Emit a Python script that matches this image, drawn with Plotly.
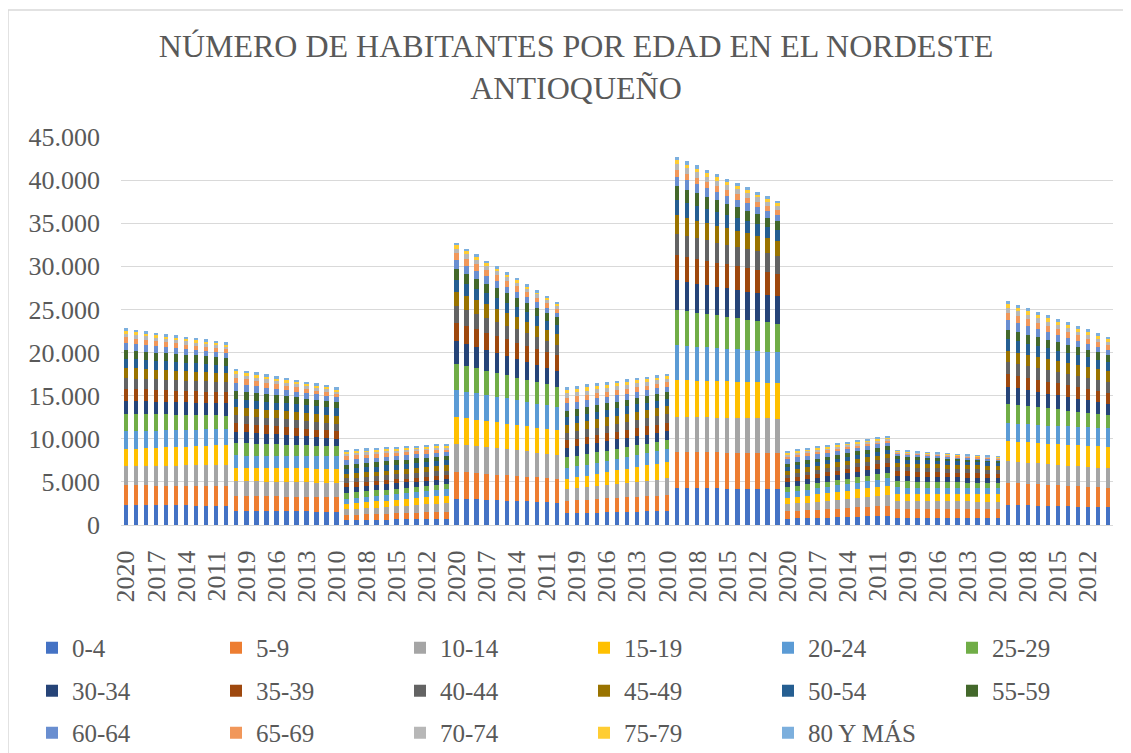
import plotly.graph_objects as go

# Years shown for each municipality block (as in the source sheet, 2020 down to 2010)
years = [2020, 2019, 2018, 2017, 2016, 2015, 2014, 2013, 2012, 2011, 2010]

age_groups = ["0-4", "5-9", "10-14", "15-19", "20-24", "25-29", "30-34", "35-39",
              "40-44", "45-49", "50-54", "55-59", "60-64", "65-69", "70-74", "75-79",
              "80 Y MÁS"]

colors = ["#4472C4", "#ED7D31", "#A5A5A5", "#FFC000", "#5B9BD5", "#70AD47",
          "#264478", "#9E480E", "#636363", "#997300", "#255E91", "#43682B",
          "#698ED0", "#F1975A", "#B7B7B7", "#FFCD33", "#7CAFDD"]

# One table per municipality block: rows = age groups, columns = years (2020..2010)
mun_1 = [
    [2300, 2295, 2290, 2285, 2280, 2275, 2270, 2260, 2255, 2250, 2240],
    [2310, 2300, 2300, 2295, 2300, 2290, 2295, 2300, 2300, 2305, 2300],
    [2200, 2225, 2255, 2280, 2310, 2335, 2360, 2390, 2415, 2445, 2470],
    [1970, 2005, 2035, 2070, 2100, 2135, 2170, 2200, 2235, 2265, 2300],
    [2080, 2055, 2035, 2010, 1990, 1965, 1940, 1920, 1895, 1875, 1850],
    [2050, 2000, 1950, 1895, 1845, 1795, 1745, 1695, 1640, 1590, 1540],
    [1470, 1465, 1460, 1455, 1450, 1450, 1445, 1440, 1440, 1435, 1430],
    [1430, 1415, 1400, 1380, 1365, 1350, 1335, 1320, 1300, 1285, 1270],
    [1240, 1230, 1225, 1215, 1210, 1200, 1190, 1185, 1175, 1170, 1160],
    [1200, 1185, 1170, 1150, 1135, 1120, 1105, 1090, 1070, 1055, 1040],
    [1040, 1025, 1010, 995, 980, 965, 950, 935, 920, 905, 890],
    [970, 965, 960, 955, 950, 950, 945, 940, 940, 935, 930],
    [810, 785, 755, 730, 700, 675, 650, 620, 595, 565, 540],
    [700, 670, 645, 615, 590, 560, 530, 505, 475, 450, 420],
    [420, 410, 400, 385, 375, 365, 355, 345, 330, 320, 310],
    [310, 300, 295, 285, 280, 270, 260, 255, 245, 240, 230],
    [350, 340, 335, 325, 320, 310, 300, 295, 285, 280, 270],
]
mun_2 = [
    [1660, 1650, 1635, 1625, 1610, 1600, 1590, 1575, 1565, 1550, 1540],
    [1740, 1730, 1725, 1715, 1710, 1700, 1690, 1685, 1675, 1670, 1660],
    [1700, 1695, 1690, 1690, 1685, 1680, 1675, 1670, 1670, 1665, 1660],
    [1540, 1550, 1565, 1575, 1590, 1600, 1610, 1625, 1635, 1650, 1660],
    [1430, 1435, 1445, 1450, 1460, 1465, 1470, 1480, 1485, 1495, 1500],
    [1430, 1400, 1370, 1335, 1305, 1275, 1245, 1215, 1180, 1150, 1120],
    [1310, 1270, 1225, 1185, 1140, 1100, 1060, 1015, 975, 930, 890],
    [1040, 1020, 1000, 985, 965, 945, 925, 905, 890, 870, 850],
    [930, 920, 915, 905, 900, 890, 880, 875, 865, 860, 850],
    [890, 900, 905, 915, 920, 930, 940, 945, 955, 960, 970],
    [930, 925, 920, 920, 915, 910, 905, 900, 900, 895, 890],
    [970, 945, 915, 890, 860, 835, 810, 780, 755, 725, 700],
    [850, 820, 790, 755, 725, 695, 665, 635, 600, 570, 540],
    [660, 635, 605, 580, 550, 525, 500, 470, 445, 415, 390],
    [420, 410, 400, 385, 375, 365, 355, 345, 330, 320, 310],
    [310, 300, 295, 285, 280, 270, 260, 255, 245, 240, 230],
    [310, 300, 295, 285, 280, 270, 260, 255, 245, 240, 230],
]
mun_3 = [
    [580, 590, 605, 615, 630, 640, 650, 665, 675, 690, 700],
    [580, 605, 635, 660, 690, 715, 740, 770, 795, 825, 850],
    [660, 690, 720, 755, 785, 815, 845, 875, 910, 940, 970],
    [620, 645, 675, 700, 730, 755, 780, 810, 835, 865, 890],
    [620, 630, 640, 655, 665, 675, 685, 695, 710, 720, 730],
    [620, 620, 625, 620, 615, 620, 625, 620, 620, 615, 620],
    [700, 685, 670, 650, 635, 620, 605, 590, 570, 555, 540],
    [460, 465, 460, 460, 465, 460, 455, 460, 460, 465, 460],
    [580, 575, 570, 570, 565, 560, 555, 550, 550, 545, 540],
    [460, 480, 500, 520, 540, 560, 580, 600, 620, 640, 660],
    [580, 585, 580, 580, 585, 580, 575, 580, 580, 585, 580],
    [500, 500, 505, 500, 495, 500, 500, 505, 500, 500, 500],
    [580, 565, 550, 530, 515, 500, 485, 470, 450, 435, 420],
    [460, 450, 440, 425, 415, 405, 395, 385, 370, 360, 350],
    [310, 300, 295, 285, 280, 270, 260, 255, 245, 240, 230],
    [230, 225, 220, 220, 215, 210, 205, 200, 200, 195, 190],
    [190, 190, 190, 190, 190, 190, 190, 190, 190, 190, 190],
]
mun_4 = [
    [3050, 3005, 2960, 2910, 2865, 2820, 2775, 2730, 2680, 2635, 2590],
    [3130, 3095, 3060, 3025, 2990, 2955, 2920, 2885, 2850, 2815, 2780],
    [3240, 3195, 3150, 3100, 3055, 3010, 2965, 2920, 2870, 2825, 2780],
    [3090, 3065, 3045, 3020, 3000, 2975, 2950, 2930, 2905, 2885, 2860],
    [3130, 3085, 3045, 3000, 2960, 2915, 2870, 2830, 2785, 2745, 2700],
    [3050, 2975, 2905, 2830, 2760, 2685, 2610, 2540, 2465, 2395, 2320],
    [2630, 2550, 2475, 2395, 2320, 2240, 2160, 2085, 2005, 1930, 1850],
    [2120, 2085, 2050, 2020, 1985, 1950, 1915, 1880, 1850, 1815, 1780],
    [1930, 1860, 1790, 1725, 1655, 1585, 1515, 1445, 1380, 1310, 1240],
    [1700, 1650, 1600, 1550, 1500, 1450, 1400, 1350, 1300, 1250, 1200],
    [1390, 1355, 1320, 1285, 1250, 1215, 1180, 1145, 1110, 1075, 1040],
    [1200, 1175, 1145, 1120, 1090, 1065, 1040, 1010, 985, 955, 930],
    [1040, 990, 940, 890, 840, 790, 740, 690, 640, 590, 540],
    [810, 780, 750, 715, 685, 655, 625, 595, 560, 530, 500],
    [540, 515, 495, 470, 450, 425, 400, 380, 355, 335, 310],
    [390, 375, 360, 340, 325, 310, 295, 280, 260, 245, 230],
    [310, 300, 285, 275, 260, 250, 240, 225, 215, 200, 190],
]
mun_5 = [
    [1350, 1380, 1410, 1445, 1475, 1505, 1535, 1565, 1600, 1630, 1660],
    [1470, 1505, 1540, 1570, 1605, 1640, 1675, 1710, 1740, 1775, 1810],
    [1310, 1370, 1435, 1495, 1560, 1620, 1680, 1745, 1805, 1870, 1930],
    [1200, 1275, 1345, 1420, 1490, 1565, 1640, 1710, 1785, 1855, 1930],
    [1240, 1265, 1285, 1310, 1330, 1355, 1380, 1400, 1425, 1445, 1470],
    [1270, 1245, 1225, 1200, 1180, 1155, 1130, 1110, 1085, 1065, 1040],
    [1120, 1110, 1105, 1095, 1090, 1080, 1070, 1065, 1055, 1050, 1040],
    [850, 860, 875, 885, 900, 910, 920, 935, 945, 960, 970],
    [850, 860, 875, 885, 900, 910, 920, 935, 945, 960, 970],
    [930, 935, 940, 940, 945, 950, 955, 960, 960, 965, 970],
    [890, 885, 880, 880, 875, 870, 865, 860, 860, 855, 850],
    [770, 765, 760, 760, 755, 750, 745, 740, 740, 735, 730],
    [850, 830, 810, 795, 775, 755, 735, 715, 700, 680, 660],
    [660, 645, 630, 610, 595, 580, 565, 550, 530, 515, 500],
    [500, 490, 480, 465, 455, 445, 435, 425, 410, 400, 390],
    [390, 380, 375, 365, 360, 350, 340, 335, 325, 320, 310],
    [350, 340, 335, 325, 320, 310, 300, 295, 285, 280, 270],
]
mun_6 = [
    [4320, 4300, 4280, 4265, 4245, 4225, 4205, 4185, 4170, 4150, 4130],
    [4170, 4175, 4170, 4165, 4170, 4175, 4170, 4165, 4170, 4175, 4170],
    [4050, 4055, 4050, 4045, 4050, 4055, 4050, 4045, 4050, 4055, 4050],
    [4250, 4240, 4225, 4215, 4200, 4190, 4180, 4165, 4155, 4140, 4130],
    [4050, 4000, 3950, 3900, 3850, 3800, 3750, 3700, 3650, 3600, 3550],
    [4130, 4050, 3970, 3885, 3805, 3725, 3645, 3565, 3480, 3400, 3320],
    [3400, 3375, 3355, 3330, 3310, 3285, 3260, 3240, 3215, 3195, 3170],
    [2900, 2875, 2845, 2820, 2790, 2765, 2740, 2710, 2685, 2655, 2630],
    [2510, 2465, 2425, 2380, 2340, 2295, 2250, 2210, 2165, 2125, 2080],
    [2120, 2080, 2035, 1995, 1950, 1910, 1870, 1825, 1785, 1740, 1700],
    [1810, 1760, 1710, 1660, 1610, 1560, 1510, 1460, 1410, 1360, 1310],
    [1580, 1520, 1465, 1405, 1350, 1290, 1230, 1175, 1115, 1060, 1000],
    [1120, 1080, 1040, 1005, 965, 925, 885, 845, 810, 770, 730],
    [810, 785, 765, 740, 720, 695, 670, 650, 625, 605, 580],
    [660, 640, 620, 600, 580, 560, 540, 520, 500, 480, 460],
    [420, 410, 400, 385, 375, 365, 355, 345, 330, 320, 310],
    [420, 410, 400, 385, 375, 365, 355, 345, 330, 320, 310],
]
mun_7 = [
    [730, 765, 800, 835, 870, 905, 940, 975, 1010, 1045, 1080],
    [850, 880, 910, 945, 975, 1005, 1035, 1065, 1100, 1130, 1160],
    [810, 850, 890, 925, 965, 1005, 1045, 1085, 1120, 1160, 1200],
    [730, 770, 810, 845, 885, 925, 965, 1005, 1040, 1080, 1120],
    [660, 680, 700, 715, 735, 755, 775, 795, 810, 830, 850],
    [580, 590, 595, 605, 610, 620, 630, 635, 645, 650, 660],
    [580, 585, 590, 590, 595, 600, 605, 610, 610, 615, 620],
    [460, 470, 475, 485, 490, 500, 510, 515, 525, 530, 540],
    [390, 400, 410, 425, 435, 445, 455, 465, 480, 490, 500],
    [500, 500, 505, 500, 495, 500, 500, 505, 500, 500, 500],
    [420, 425, 430, 430, 435, 440, 445, 450, 450, 455, 460],
    [390, 395, 405, 410, 420, 425, 430, 440, 445, 455, 460],
    [540, 525, 510, 495, 480, 465, 450, 435, 420, 405, 390],
    [350, 340, 335, 325, 320, 310, 300, 295, 285, 280, 270],
    [230, 225, 220, 220, 215, 210, 205, 200, 200, 195, 190],
    [190, 185, 180, 180, 175, 170, 165, 160, 160, 155, 150],
    [150, 145, 145, 140, 135, 135, 130, 130, 125, 125, 120],
]
mun_8 = [
    [850, 850, 855, 850, 845, 850, 850, 855, 850, 850, 850],
    [1000, 995, 995, 990, 990, 985, 980, 980, 975, 975, 970],
    [930, 925, 920, 920, 915, 910, 905, 900, 900, 895, 890],
    [850, 850, 845, 850, 855, 850, 850, 845, 850, 850, 850],
    [730, 725, 725, 720, 720, 715, 710, 710, 705, 705, 700],
    [730, 715, 700, 685, 670, 655, 640, 625, 610, 595, 580],
    [580, 580, 580, 580, 580, 580, 580, 580, 580, 580, 580],
    [580, 570, 565, 555, 550, 540, 530, 525, 515, 510, 500],
    [460, 460, 460, 460, 460, 460, 460, 460, 460, 460, 460],
    [460, 460, 460, 460, 460, 460, 460, 460, 460, 460, 460],
    [460, 455, 445, 440, 430, 425, 420, 410, 405, 395, 390],
    [350, 340, 325, 315, 300, 290, 280, 265, 255, 240, 230],
    [270, 260, 255, 245, 240, 230, 220, 215, 205, 200, 190],
    [150, 145, 145, 140, 135, 135, 130, 130, 125, 125, 120],
    [120, 115, 110, 110, 105, 100, 95, 90, 90, 85, 80],
    [80, 75, 70, 70, 65, 60, 55, 50, 50, 45, 40],
    [80, 75, 70, 70, 65, 60, 55, 50, 50, 45, 40],
]
mun_9 = [
    [2320, 2295, 2265, 2240, 2210, 2185, 2160, 2130, 2105, 2075, 2050],
    [2550, 2525, 2495, 2470, 2440, 2415, 2390, 2360, 2335, 2305, 2280],
    [2510, 2485, 2455, 2430, 2400, 2375, 2350, 2320, 2295, 2265, 2240],
    [2320, 2340, 2360, 2375, 2395, 2415, 2435, 2455, 2470, 2490, 2510],
    [2080, 2085, 2090, 2090, 2095, 2100, 2105, 2110, 2110, 2115, 2120],
    [2280, 2205, 2130, 2060, 1985, 1910, 1835, 1760, 1690, 1615, 1540],
    [1970, 1910, 1845, 1785, 1720, 1660, 1600, 1535, 1475, 1410, 1350],
    [1470, 1445, 1425, 1400, 1380, 1355, 1330, 1310, 1285, 1265, 1240],
    [1430, 1415, 1400, 1380, 1365, 1350, 1335, 1320, 1300, 1285, 1270],
    [1270, 1265, 1265, 1260, 1255, 1255, 1250, 1250, 1245, 1245, 1240],
    [1350, 1325, 1295, 1270, 1240, 1215, 1190, 1160, 1135, 1105, 1080],
    [1120, 1090, 1060, 1025, 995, 965, 935, 905, 870, 840, 810],
    [1080, 1035, 990, 940, 895, 850, 805, 760, 710, 665, 620],
    [850, 815, 780, 745, 710, 675, 640, 605, 570, 535, 500],
    [580, 560, 540, 525, 505, 485, 465, 445, 430, 410, 390],
    [420, 410, 400, 385, 375, 365, 355, 345, 330, 320, 310],
    [350, 345, 340, 340, 335, 330, 325, 320, 320, 315, 310],
]

blocks = [mun_1, mun_2, mun_3, mun_4, mun_5, mun_6, mun_7, mun_8, mun_9]

# Category keys (unique per bar) and displayed year labels
categories = []
year_labels = []
for b in range(len(blocks)):
    for y in years:
        categories.append(f"M{b + 1}-{y}")
        year_labels.append(str(y))

FONT = "Liberation Serif, DejaVu Serif, serif"
TXT = "#595959"

legend_ids = ["legend", "legend2", "legend3"]

fig = go.Figure()
for i, name in enumerate(age_groups):
    vals = []
    for blk in blocks:
        vals.extend(blk[i])
    fig.add_trace(go.Bar(
        x=categories, y=vals, name=name,
        marker=dict(color=colors[i], line=dict(width=0)),
        legend=legend_ids[i // 6],
    ))

tick_idx = list(range(0, len(categories), 3))

legend_common = dict(
    orientation="h",
    xref="paper", yref="paper",
    x=-0.0897, xanchor="left", yanchor="top",
    entrywidth=139, entrywidthmode="pixels",
    traceorder="normal",
    font=dict(family=FONT, size=25, color=TXT),
    itemclick=False, itemdoubleclick=False,
    bgcolor="rgba(0,0,0,0)",
)

fig.update_layout(
    barmode="stack",
    bargap=0.55,
    width=1123, height=745,
    margin=dict(l=113, r=18, t=129, b=228, autoexpand=False),
    paper_bgcolor="white", plot_bgcolor="white",
    separators=",.",
    font=dict(family=FONT, color=TXT, size=25),
    title=dict(
        text="NÚMERO DE HABITANTES POR EDAD EN EL NORDESTE<br>ANTIOQUEÑO",
        xref="container", yref="container",
        x=0.5058, y=0.934, xanchor="center", yanchor="middle",
        font=dict(family=FONT, size=32, color=TXT),
    ),
    xaxis=dict(
        type="category",
        tickmode="array",
        tickvals=[categories[k] for k in tick_idx],
        ticktext=[year_labels[k] for k in tick_idx],
        tickangle=-90,
        tickfont=dict(family=FONT, size=26, color=TXT),
        showgrid=False,
        showline=True, linecolor="#d9d9d9", linewidth=1.3,
        ticks="", ticklabelstandoff=14,
        automargin=False,
    ),
    yaxis=dict(
        range=[0, 45000],
        tickmode="linear", tick0=0, dtick=5000,
        tickformat=",d",
        tickfont=dict(family=FONT, size=26, color=TXT),
        showgrid=True, gridcolor="#d9d9d9", gridwidth=1.3,
        zeroline=False, showline=False,
        ticks="", ticklabelstandoff=20,
        automargin=False,
    ),
    legend=dict(legend_common, y=-0.2577),
    legend2=dict(legend_common, y=-0.3685),
    legend3=dict(legend_common, y=-0.4768),
    shapes=[dict(
        type="rect", xref="paper", yref="paper",
        x0=-0.1139, x1=1.3, y0=-1.0, y1=1.327,
        line=dict(color="#d9d9d9", width=1.5), fillcolor="rgba(0,0,0,0)",
        layer="below",
    )],
    showlegend=True,
)

fig.write_html("out.html")
